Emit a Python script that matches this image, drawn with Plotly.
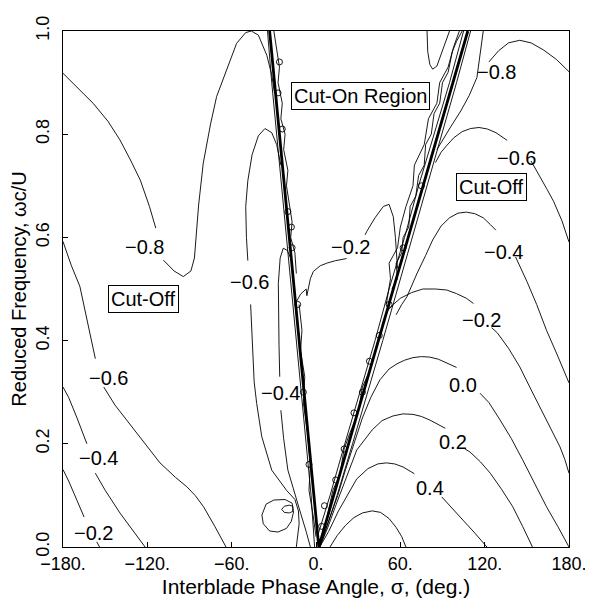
import plotly.graph_objects as go

# ---- contour lines (sigma in deg, reduced frequency) ----
# left (cut-off) side
L08_X = [-180, -170, -158.6, -148, -139.5, -132, -125, -118.5, -114, None, -108.6, -101, -94.4, -89, -86.5,
         -85, -83.5, -80.2, -75, -70.7, -63, -56.5, -50, -46, -41, -35, -31.5, -29.5]
L08_Y = [0.918, 0.89, 0.86, 0.825, 0.789, 0.75, 0.711, 0.66, 0.618, None, 0.556, 0.535, 0.524, 0.535, 0.56,
         0.614, 0.663, 0.744, 0.82, 0.873, 0.93, 0.976, 0.997, 1.0, 0.992, 0.953, 0.915, 0.88]

L06_X = [-180, -174, -168, -162, -157, None, -151, -143, -134.7, -123, -111, -100, -92, -86, -80, -72, -64]
L06_Y = [0.592, 0.545, 0.505, 0.43, 0.365, None, 0.31, 0.275, 0.246, 0.205, 0.163, 0.135, 0.117, 0.1, 0.078, 0.04, 0]

L04_X = [-180, -176, -170, -163, None, -157, -150, -139.5, -131, -121.6]
L04_Y = [0.31, 0.29, 0.25, 0.2, None, 0.143, 0.11, 0.066, 0.035, 0]

L02_X = [-180, -176, -170, -165, None, -156, -154]
L02_Y = [0.15, 0.128, 0.09, 0.058, None, 0.01, 0]

# middle, left of the V
M06_X = [-25, -28, -31.5, -36.3, -41, -45.5, -48.5, -50, -49.5, -48.5, None, -46.5, -45.8, -45, -44, -42.2,
         -38.6, -31.5, -21, -15, -12.5, -12, -13, -14]
M06_Y = [0.74, 0.78, 0.803, 0.811, 0.797, 0.76, 0.71, 0.66, 0.6, 0.555, None, 0.47, 0.42, 0.37, 0.32, 0.278,
         0.214, 0.149, 0.11, 0.092, 0.07, 0.045, 0.02, 0]

M04_X = [-18, -20.5, -23.3, -25.5, -26.8, -26.8, -26.3, -25.8, None, -25, -23, -20, -15, -11, -7, -4]
M04_Y = [0.56, 0.575, 0.579, 0.56, 0.511, 0.45, 0.39, 0.33, None, 0.265, 0.21, 0.149, 0.1, 0.066, 0.03, 0]

LOOP_X = [-17, -22, -30, -35.5, -38.5, -37.5, -33, -27, -21, -17.5, -16, -17]
LOOP_Y = [0.085, 0.092, 0.091, 0.083, 0.062, 0.045, 0.031, 0.029, 0.036, 0.05, 0.068, 0.085]
LOOP2_X = [-16.5, -19, -22.5, -24.4, -22.5, -19, -16.5, -16.5]
LOOP2_Y = [0.079, 0.081, 0.079, 0.073, 0.067, 0.066, 0.069, 0.079]

# inside the V (cut-on region)
M02_X = [-14, -11, -7, -6.5, -4, -1.9, 3, 7.6, 14, 21.8, None, 35, 36, 42, 47.9, 52, 55, 56.5, 57.4, 58]
M02_Y = [0.475, 0.49, 0.5, 0.487, 0.52, 0.534, 0.545, 0.55, 0.555, 0.559, None, 0.605, 0.611, 0.638, 0.66,
         0.664, 0.64, 0.6, 0.565, 0.54]

U_X = [79, 79.5, 81, 83, 86, 89, 92, 95]
U_Y = [1.0, 0.96, 0.935, 0.926, 0.932, 0.955, 0.98, 1.0]

# right (cut-off) side
R08A_X = [119, 117, 114.5, 109, 103, 96, 90.6, 86]
R08A_Y = [1.0, 0.96, 0.91, 0.875, 0.845, 0.815, 0.792, 0.77]
R08B_X = [123, 130, 137, 145, 153, 162, 171, 180]
R08B_Y = [0.94, 0.962, 0.977, 0.982, 0.977, 0.963, 0.945, 0.921]

R06_X = [85, 89, 93, 98, 104, 110, 116, 122, 128, 136, None, 153, 158, 164, 169, 175, 180]
R06_Y = [0.745, 0.765, 0.778, 0.793, 0.805, 0.811, 0.813, 0.81, 0.803, 0.788, None, 0.748, 0.725, 0.695,
         0.67, 0.632, 0.591]

R04_X = [57, 61, 64.7, 72, 78, 83, 89, 95, 101, 107, 113, 119, 124, 128, None, 142, 146, 150, 157, 164, 172, 180]
R04_Y = [0.45, 0.47, 0.485, 0.531, 0.565, 0.595, 0.622, 0.638, 0.647, 0.649, 0.646, 0.638, 0.625, 0.614,
         None, 0.562, 0.54, 0.515, 0.47, 0.42, 0.37, 0.318]

R02_X = [47, 50, 55, 60, 68, 76, 85, 93, 100, 107, 112, None, 125, 129, 137, 145, 153, 161.5, 168, 173.6,
         177, 180]
R02_Y = [0.43, 0.455, 0.47, 0.482, 0.493, 0.5, 0.5, 0.498, 0.491, 0.482, 0.472, None, 0.425, 0.415, 0.385,
         0.349, 0.305, 0.26, 0.224, 0.194, 0.17, 0.143]

R00_X = [3, 9, 15.5, 21, 27, 33, 39, 45.5, 52, 57.6, 63, 69, 75, 81, 87, 93, 100, None, 116.7, 123, 131, 139,
         147, 155, 164, 172, 180]
R00_Y = [0.005, 0.05, 0.1, 0.15, 0.2, 0.25, 0.29, 0.324, 0.345, 0.355, 0.362, 0.367, 0.369, 0.368, 0.364,
         0.357, 0.348, None, 0.298, 0.28, 0.246, 0.21, 0.169, 0.125, 0.078, 0.04, 0]

P02_X = [3, 8, 14, 21, 29, 40, 47, 54.8, 62, 69, 75, 81, 87, 92, None, 106, 109.6, 117, 124, 132, 140, 147, 154]
P02_Y = [0.003, 0.035, 0.08, 0.13, 0.188, 0.227, 0.245, 0.254, 0.258, 0.257, 0.253, 0.246, 0.238, 0.23, None,
         0.19, 0.184, 0.165, 0.143, 0.112, 0.078, 0.04, 0]

P04_X = [3, 9, 16, 22, 29, 37, 44, 50, 56, 62, 70, None, 89.5, 96, 104.6, 113, 121.6]
P04_Y = [0.002, 0.03, 0.07, 0.1, 0.132, 0.152, 0.161, 0.163, 0.161, 0.155, 0.142, None, 0.097, 0.077, 0.052,
         0.027, 0]

P06_X = [10, 15, 21, 27, 33, 40, 46, 52, 57, 61, 64]
P06_Y = [0, 0.022, 0.042, 0.057, 0.066, 0.07, 0.067, 0.055, 0.038, 0.02, 0]

# thin wavy contours crowding both arms of the V
RB1_X = [3, 15, 26, 37, 47.5, 58, 68.5, 79, 90, 100, 110]
RB1_Y = [0, 0.1, 0.2, 0.3, 0.4, 0.5, 0.6, 0.7, 0.8, 0.9, 1.0]
RB2_X = [1, 10, 20.5, 31.5, 42, 52, 63, 73, 84, 95, 105]
RB2_Y = [0.02, 0.1, 0.2, 0.3, 0.4, 0.5, 0.6, 0.7, 0.8, 0.9, 1.0]
RB3_X = [50, 53, 52, 58, 60, 64, 69, 70, 77, 80, 86, 88, 94, 98, 102]
RB3_Y = [0.47, 0.52, 0.55, 0.58, 0.62, 0.66, 0.7, 0.74, 0.78, 0.83, 0.86, 0.9, 0.93, 0.97, 1.0]
RB4_X = [8, 12, 17, 20, 24, 30, 33, 38, 42, 46]
RB4_Y = [0.06, 0.11, 0.14, 0.19, 0.22, 0.26, 0.31, 0.34, 0.38, 0.42]
RB5_X = [54, 58, 57, 61, 62, 66, 67, 71, 73, 77, 78, 82, 84, 88, 90, 94, 97, 100, 104]
RB5_Y = [0.5, 0.52, 0.55, 0.57, 0.6, 0.62, 0.66, 0.68, 0.72, 0.74, 0.78, 0.8, 0.84, 0.86, 0.9, 0.92, 0.96,
         0.98, 1.0]
LB1_X = [-1, -3.5, -7, -10.5, -14, -18, -21, -25, -28, -31.5, -34.5]
LB1_Y = [0, 0.1, 0.2, 0.3, 0.4, 0.5, 0.6, 0.7, 0.8, 0.9, 1.0]
LB2_X = [-30, -28, -26, -27, -24, -25, -22, -23, -20, -21, -19, -17, -18, -15, -14]
LB2_Y = [1.0, 0.96, 0.93, 0.9, 0.86, 0.83, 0.8, 0.77, 0.73, 0.7, 0.66, 0.63, 0.6, 0.57, 0.53]
LB3_X = [-12, -10, -11, -8, -9, -6, -4, -5, -2, 0]
LB3_Y = [0.47, 0.42, 0.38, 0.33, 0.28, 0.22, 0.16, 0.11, 0.06, 0.02]

BLOB_X = [14, 20, 27, 33, 38, 45, 52, 62, 75, -17, -17.5, -13, -24, -27, -26, -9, -20, -5, 4, 6]
BLOB_Y = [0.13, 0.19, 0.26, 0.3, 0.36, 0.41, 0.47, 0.58, 0.7, 0.58, 0.62, 0.47, 0.81, 0.88, 0.94, 0.3,
          0.65, 0.16, 0.04, 0.08]

# the two thick cut-on boundary lines
V_X = [-33, 2, 108]
V_Y = [1.0, 0, 1.0]

CONTOURS = [
    (L08_X, L08_Y), (L06_X, L06_Y), (L04_X, L04_Y), (L02_X, L02_Y),
    (M06_X, M06_Y), (M04_X, M04_Y), (LOOP_X, LOOP_Y), (LOOP2_X, LOOP2_Y),
    (M02_X, M02_Y), (U_X, U_Y),
    (R08A_X, R08A_Y), (R08B_X, R08B_Y), (R06_X, R06_Y), (R04_X, R04_Y), (R02_X, R02_Y),
    (R00_X, R00_Y), (P02_X, P02_Y), (P04_X, P04_Y), (P06_X, P06_Y),
    (RB1_X, RB1_Y), (RB2_X, RB2_Y), (RB3_X, RB3_Y), (RB4_X, RB4_Y), (RB5_X, RB5_Y),
    (LB1_X, LB1_Y), (LB2_X, LB2_Y), (LB3_X, LB3_Y),
]

# contour labels (text, sigma, frequency)
LABELS = [
    ("−0.8", -121.7, 0.582), ("−0.6", -147.8, 0.327), ("−0.4", -154.9, 0.172), ("−0.2", -158.2, 0.027),
    ("−0.6", -47, 0.514), ("−0.4", -25.6, 0.298), ("−0.2", 24.2, 0.582),
    ("−0.8", 128.5, 0.921), ("−0.6", 142.8, 0.753), ("−0.4", 133.3, 0.572), ("−0.2", 117.9, 0.44),
    ("0.0", 104.8, 0.314), ("0.2", 97.7, 0.204), ("0.4", 81.1, 0.114),
]
BOXES = [("Cut-On Region", 32, 0.874), ("Cut-Off", 125, 0.697), ("Cut-Off", -122.9, 0.481)]

X_TICKS = [-180, -120, -60, 0, 60, 120, 180]
X_TICKTEXT = ["−180.", "−120.", "−60.", "0.", "60.", "120.", "180."]
Y_TICKS = [0, 0.2, 0.4, 0.6, 0.8, 1.0]
Y_TICKTEXT = ["0.0", "0.2", "0.4", "0.6", "0.8", "1.0"]

FONT = "Liberation Sans, Arial, sans-serif"

fig = go.Figure()
for xs, ys in CONTOURS:
    fig.add_trace(go.Scatter(x=xs, y=ys, mode="lines", connectgaps=False,
                             line=dict(color="black", width=0.9), hoverinfo="skip"))
fig.add_trace(go.Scatter(x=BLOB_X, y=BLOB_Y, mode="markers", hoverinfo="skip",
                         marker=dict(symbol="circle-open", size=6, color="black", line=dict(width=0.9))))
fig.add_trace(go.Scatter(x=V_X, y=V_Y, mode="lines", line=dict(color="black", width=2.8), hoverinfo="skip"))

for text, x, y in LABELS:
    fig.add_annotation(x=x, y=y, text=text, showarrow=False, font=dict(size=20, color="black", family=FONT))
for text, x, y in BOXES:
    fig.add_annotation(x=x, y=y, text=text, showarrow=False, bgcolor="white", bordercolor="black",
                       borderwidth=1, borderpad=2, font=dict(size=20, color="black", family=FONT))

# page body adds an 8px offset, so the figure is a bit smaller than the window
fig.update_layout(
    width=585,
    height=593,
    margin=dict(l=55, r=24, t=23, b=54),
    paper_bgcolor="white",
    plot_bgcolor="white",
    showlegend=False,
    font=dict(family=FONT, color="black"),
)
fig.update_xaxes(
    range=[-180, 180], tickvals=X_TICKS, ticktext=X_TICKTEXT, ticks="inside", ticklen=5,
    tickcolor="black", showgrid=False, zeroline=False, showline=True, linecolor="black", linewidth=1,
    mirror=True, tickfont=dict(size=18), automargin=False,
    title=dict(text="Interblade Phase Angle, σ, (deg.)", font=dict(size=21), standoff=6),
)
fig.update_yaxes(
    range=[0, 1], tickvals=Y_TICKS, ticktext=Y_TICKTEXT, ticks="inside", ticklen=5, tickangle=-90,
    tickcolor="black", showgrid=False, zeroline=False, showline=True, linecolor="black", linewidth=1,
    mirror=True, tickfont=dict(size=18), automargin=False, ticklabelstandoff=6,
    title=dict(text="Reduced Frequency, ωc/U", font=dict(size=20), standoff=0),
)

fig.write_html("out.html")
